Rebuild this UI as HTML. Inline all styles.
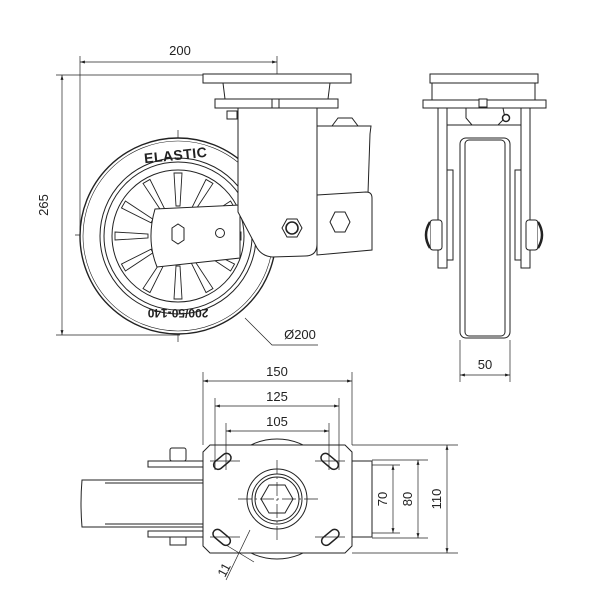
<!DOCTYPE html>
<html><head><meta charset="utf-8"><style>html,body{margin:0;padding:0;background:#fff}svg{display:block}</style></head><body>
<svg width="600" height="600" viewBox="0 0 600 600" xmlns="http://www.w3.org/2000/svg" font-family="'Liberation Sans', 'DejaVu Sans', sans-serif">
<defs>
<marker id="a" viewBox="0 0 10 10" refX="10" refY="5" markerWidth="7" markerHeight="7" orient="auto-start-reverse"><path d="M0,2 L10,5 L0,8 z" fill="#222"/></marker>
<polygon id="sp" points="-2,-30 2,-30 4,-63 -4,-63"/>
</defs>
<g fill="none" stroke="#222" stroke-width="0.7">
<line x1="80" y1="62" x2="277" y2="62" marker-start="url(#a)" marker-end="url(#a)"/>
<line x1="80" y1="56" x2="80" y2="230"/>
<line x1="277" y1="56" x2="277" y2="90"/>
<line x1="56" y1="75" x2="205" y2="75"/>
<line x1="56" y1="335" x2="180" y2="335"/>
<line x1="62" y1="75" x2="62" y2="335" marker-start="url(#a)" marker-end="url(#a)"/>
<polyline points="245,318 272,345 318,345"/>
<line x1="178" y1="130" x2="178" y2="345" stroke-dasharray="14,3,2,3"/>
<line x1="75" y1="235" x2="310" y2="235" stroke-dasharray="14,3,2,3"/>
</g>
<g fill="#fff" stroke="#222" stroke-width="1">
<circle cx="178" cy="236" r="98" stroke-width="1.4"/>
<circle cx="178" cy="236" r="95" stroke-width="0.6"/>
<circle cx="178" cy="236" r="78"/>
<circle cx="178" cy="236" r="74"/>
<circle cx="178" cy="236" r="66"/>
<g transform="translate(178,236)" stroke-width="0.9">
<use href="#sp"/><use href="#sp" transform="rotate(30)"/><use href="#sp" transform="rotate(60)"/><use href="#sp" transform="rotate(90)"/><use href="#sp" transform="rotate(120)"/><use href="#sp" transform="rotate(150)"/><use href="#sp" transform="rotate(180)"/><use href="#sp" transform="rotate(210)"/><use href="#sp" transform="rotate(240)"/><use href="#sp" transform="rotate(270)"/><use href="#sp" transform="rotate(300)"/><use href="#sp" transform="rotate(330)"/>
</g>
<rect x="203" y="74" width="148" height="9"/>
<path d="M223,83 L330,83 L328,99 L225,99 Z"/>
<rect x="215" y="99" width="123" height="9"/>
<rect x="272" y="99" width="7" height="9"/>
<rect x="227" y="111" width="10" height="8"/>
<path d="M332,126 L338,118 L352,118 L358,126 Z"/>
<path d="M317,126 L371,126 L370,134 L368,193 L317,196 Z"/>
<path d="M155,209 L240,205 L240,258 L157,267 Q146,240 155,209 Z"/>
<path d="M317,195 L366,192 Q372,192 372,198 L372,250 L317,255 Z"/>
<path d="M238,108 L317,108 L317,244 Q317,256 305,256 L272,257 Q262,256 257,248 L238,212 Z"/>
<polygon points="172,228 178,224 184,228 184,240 178,244 172,240"/>
<circle cx="220" cy="233" r="4.5"/>
<polygon points="287,219 297,219 302,228 297,237 287,237 282,228"/>
<circle cx="292" cy="228" r="6" stroke-width="1.6"/>
<polygon points="335,212 345,212 350,222 345,232 335,232 330,222"/>
</g>
<text x="176" y="160" font-size="14" text-anchor="middle" fill="#222" transform="rotate(-6 176 159)" letter-spacing="0.5" font-weight="bold">ELASTIC</text>
<text x="178" y="317" font-size="12" text-anchor="middle" fill="#222" transform="rotate(180 178 313)" font-weight="bold">200/50-140</text>
<text x="180" y="55" font-size="13" text-anchor="middle" fill="#222">200</text>
<text x="48" y="205" font-size="13" text-anchor="middle" fill="#222" transform="rotate(-90 48 205)">265</text>
<text x="300" y="339" font-size="13" text-anchor="middle" fill="#222">Ø200</text>

<g fill="#fff" stroke="#222" stroke-width="1">
<rect x="430" y="74" width="108" height="9"/>
<rect x="432" y="83" width="103" height="17"/>
<rect x="423" y="100" width="123" height="8"/>
<rect x="479" y="99" width="8" height="8"/>
<path d="M466,108 L503,108 L505,118 L498,125 L472,125 L466,118 Z"/>
<circle cx="506" cy="118" r="3.5" stroke-width="1.5"/>
<line x1="447" y1="125" x2="521" y2="125"/>
<rect x="438" y="108" width="9" height="160"/>
<rect x="521" y="108" width="9" height="160"/>
<rect x="447" y="170" width="6" height="90"/>
<rect x="515" y="170" width="6" height="90"/>
<rect x="460" y="138" width="50" height="200" rx="6"/>
<rect x="465" y="140" width="40" height="196" rx="4"/>
<rect x="430" y="220" width="12" height="30" rx="3"/>
<rect x="526" y="220" width="12" height="30" rx="3"/>
<path d="M430,222 Q422,235 430,248" stroke-width="2.5"/>
<path d="M538,222 Q546,235 538,248" stroke-width="2.5"/>
</g>
<g fill="none" stroke="#222" stroke-width="0.7">
<line x1="460" y1="340" x2="460" y2="382"/><line x1="510" y1="340" x2="510" y2="382"/>
<line x1="460" y1="375" x2="510" y2="375" marker-start="url(#a)" marker-end="url(#a)"/>
</g>
<text x="485" y="369" font-size="13" text-anchor="middle" fill="#222">50</text>

<g fill="#fff" stroke="#222" stroke-width="1">
<path d="M82,480 L203,480 L203,527 L82,527 Q80,503 82,480 Z"/>
<line x1="105" y1="483" x2="203" y2="483"/><line x1="105" y1="524" x2="203" y2="524"/>
<rect x="148" y="461" width="55" height="6"/>
<rect x="148" y="531" width="55" height="6"/>
<rect x="170" y="448" width="16" height="13" rx="2"/>
<rect x="170" y="537" width="16" height="8"/>
<rect x="352" y="461" width="20" height="76"/>
<circle cx="277" cy="499" r="60"/>
<path d="M210,445 L345,445 L352,452 L352,546 L345,553 L210,553 L203,546 L203,452 Z"/>
<circle cx="277" cy="499" r="30"/>
<circle cx="277" cy="499" r="25"/>
<circle cx="277" cy="499" r="22"/>
<polygon points="269,485 285,485 293,499 285,513 269,513 261,499"/>
<g stroke-width="1.5">
<rect x="212" y="457" width="20" height="9" rx="4.5" transform="rotate(-40 222 461)"/>
<rect x="320" y="457" width="20" height="9" rx="4.5" transform="rotate(40 330 461)"/>
<rect x="212" y="533" width="20" height="9" rx="4.5" transform="rotate(40 222 537)"/>
<rect x="320" y="533" width="20" height="9" rx="4.5" transform="rotate(-40 330 537)"/>
</g>
</g>
<g fill="none" stroke="#222" stroke-width="0.7">
<line x1="203" y1="372" x2="203" y2="445"/><line x1="352" y1="372" x2="352" y2="445"/>
<line x1="203" y1="381" x2="352" y2="381" marker-start="url(#a)" marker-end="url(#a)"/>
<line x1="215" y1="398" x2="215" y2="470"/><line x1="339" y1="398" x2="339" y2="470"/>
<line x1="215" y1="406" x2="339" y2="406" marker-start="url(#a)" marker-end="url(#a)"/>
<line x1="226" y1="423" x2="226" y2="470"/><line x1="329" y1="423" x2="329" y2="470"/>
<line x1="226" y1="431" x2="329" y2="431" marker-start="url(#a)" marker-end="url(#a)"/>
<line x1="352" y1="445" x2="458" y2="445"/><line x1="352" y1="553" x2="458" y2="553"/>
<line x1="372" y1="460" x2="428" y2="460"/><line x1="372" y1="538" x2="428" y2="538"/>
<line x1="372" y1="465" x2="400" y2="465"/><line x1="372" y1="533" x2="400" y2="533"/>
<line x1="393" y1="465" x2="393" y2="533" marker-start="url(#a)" marker-end="url(#a)"/>
<line x1="418" y1="460" x2="418" y2="538" marker-start="url(#a)" marker-end="url(#a)"/>
<line x1="447" y1="445" x2="447" y2="553" marker-start="url(#a)" marker-end="url(#a)"/>
<line x1="277" y1="460" x2="277" y2="540" stroke-dasharray="14,3,2,3"/>
<line x1="238" y1="499" x2="318" y2="499" stroke-dasharray="14,3,2,3"/>
<line x1="210" y1="461" x2="240" y2="461"/><line x1="315" y1="461" x2="345" y2="461"/>
<line x1="210" y1="537" x2="240" y2="537"/><line x1="315" y1="537" x2="345" y2="537"/>
<line x1="226" y1="545" x2="254" y2="562"/>
<line x1="250" y1="530" x2="226" y2="580"/>
</g>
<text x="277" y="376" font-size="13" text-anchor="middle" fill="#222">150</text>
<text x="277" y="401" font-size="13" text-anchor="middle" fill="#222">125</text>
<text x="277" y="426" font-size="13" text-anchor="middle" fill="#222">105</text>
<text x="387" y="499" font-size="13" text-anchor="middle" fill="#222" transform="rotate(-90 387 499)">70</text>
<text x="412" y="499" font-size="13" text-anchor="middle" fill="#222" transform="rotate(-90 412 499)">80</text>
<text x="441" y="499" font-size="13" text-anchor="middle" fill="#222" transform="rotate(-90 441 499)">110</text>
<text x="228" y="572" font-size="13" text-anchor="middle" fill="#222" transform="rotate(-62 228 572)">11</text>
</svg>
</body></html>
